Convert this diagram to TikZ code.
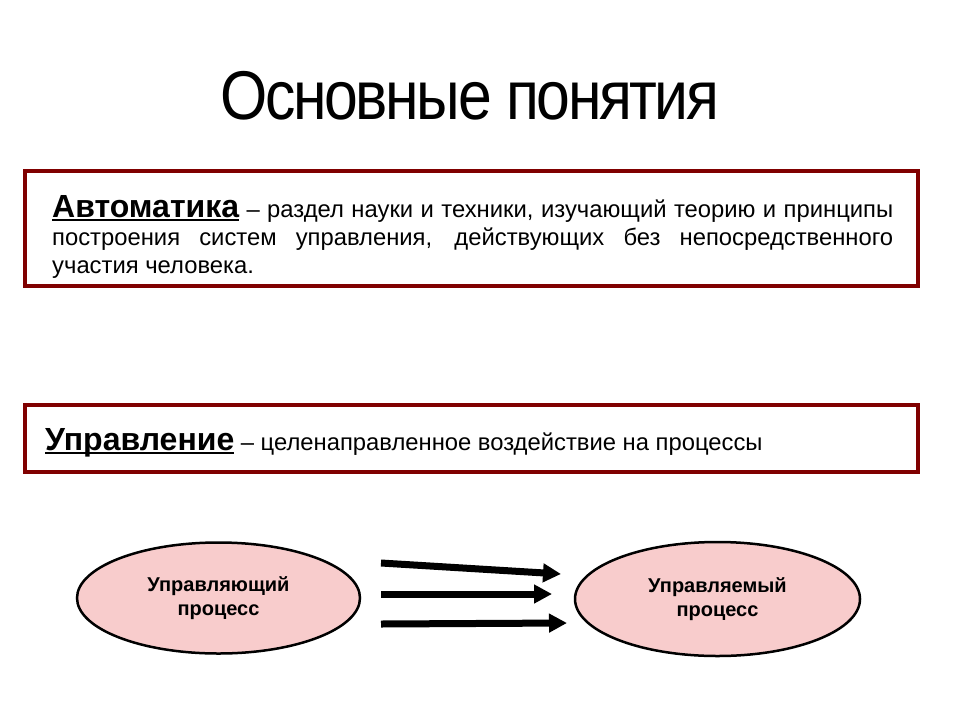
\documentclass[tikz,border=0pt]{standalone}
\usepackage{fontspec}
\setmainfont{Liberation Sans}
\newfontfamily\titlefont[LetterSpace=-4]{Liberation Sans}
\usetikzlibrary{arrows.meta,shapes.geometric}
\definecolor{framered}{RGB}{128,0,0}
\definecolor{procpink}{RGB}{248,204,204}
\newcommand\termul[1]{\setbox0\hbox{\fontsize{32}{28}\selectfont\bfseries #1}\rlap{\rule[-4pt]{\wd0}{2pt}}\box0\relax}
\begin{document}
\begin{tikzpicture}[x=1pt, y=-1pt,
    defbox/.style={draw=framered, line width=3.5pt},
    proc/.style={ellipse, draw=black, line width=2.5pt, fill=procpink, inner sep=0pt,
      align=center, font=\fontsize{20}{24}\selectfont\bfseries},
    flow/.style={line width=7pt, -{Triangle[length=18pt, width=18pt]}},
    body/.style={inner sep=0pt, font=\fontsize{23.8}{28}\selectfont}]
    \useasboundingbox (0,0) rectangle (960,720);

    \node[anchor=base, inner sep=0pt, xscale=0.88, transform shape,
      font=\titlefont\fontsize{69}{72}\selectfont] (title) at (470,119) {Основные понятия};

    \draw[defbox] (25,171) rectangle (918,286);
    \node[body, anchor=base west, text width=841pt, align=justify] (automat) at (52,217)
      {\termul{Автоматика} – раздел науки и техники, изучающий теорию и принципы\linebreak
       построения систем управления, действующих без непосредственного\linebreak
       участия человека.};

    \draw[defbox] (25,405) rectangle (918,472);
    \node[body, anchor=base west] (control) at (45,450)
      {\termul{Управление} – целенаправленное воздействие на процессы};

    \node[proc, minimum width=283pt, minimum height=111pt] (ctrl) at (218.5,598) {Управляющий\\процесс};
    \node[proc, minimum width=285pt, minimum height=114pt] (obj) at (717.5,599) {Управляемый\\процесс};

    \coordinate (s1) at (381,563); \coordinate (e1) at (561,574);
    \coordinate (s2) at (381,594); \coordinate (e2) at (552,594);
    \coordinate (s3) at (381,624); \coordinate (e3) at (567,623);
    \foreach \n in {1,2,3}
      \draw[flow] (s\n) -- (e\n);
  \end{tikzpicture}
\end{document}
